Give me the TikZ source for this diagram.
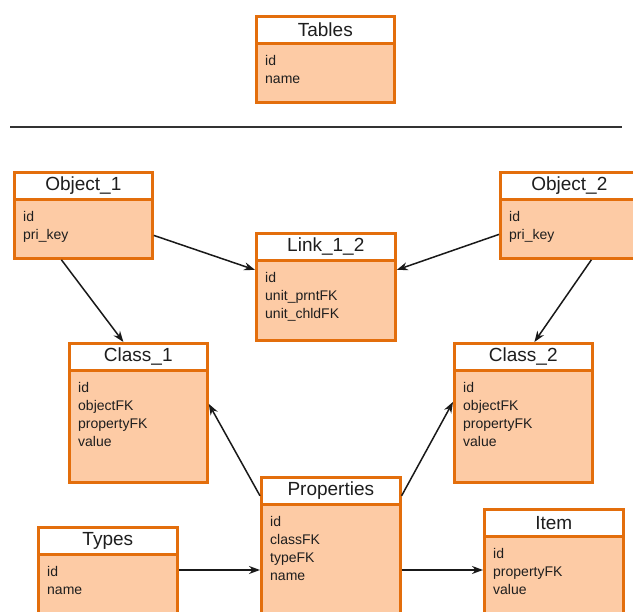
\documentclass[tikz,border=0pt]{standalone}
\usepackage{fontspec}
\setmainfont{Liberation Sans}
\usetikzlibrary{arrows.meta,calc}
\definecolor{tborder}{RGB}{227,110,12}
\definecolor{tfill}{RGB}{253,203,165}
\definecolor{ink}{RGB}{30,30,30}
\tikzset{
  tbody/.style={draw=tborder, fill=tfill, line width=2.8pt, rectangle, inner sep=0pt},
  ttitle/.style={draw=tborder, fill=white, line width=2.6pt, rectangle, inner sep=0pt,
    minimum height=27pt, text=ink, font=\fontsize{19}{22}\selectfont},
  field/.style={inner sep=0pt, text=ink, font=\fontsize{14}{17}\selectfont},
  arr/.style={draw=black!90, line width=1.5pt, -{Stealth[length=11pt,width=8pt]}},
}
\newcommand\dbtab[7]{%
  \node[tbody, minimum width=#4pt, minimum height=#5pt, anchor=north west] (#1) at (#2,#3) {};
  \node[ttitle, minimum width=#4pt, anchor=north west] (#1-t) at (#2,#3) {#6};
  \foreach \f [count=\i] in {#7}
    \node[field, anchor=base west] (#1-f\i) at ({#2+10},{#3+51+18*(\i-1)}) {\f};
}
\begin{document}
\begin{tikzpicture}[x=1pt,y=-1pt]
\clip (0,0) rectangle (633,612);
\fill[white] (0,0) rectangle (633,612);

\dbtab{tables}{255}{15}{138}{86}{Tables}{id,name}
\draw[line width=2pt, black!80] (10,127) -- (622,127);

\dbtab{obj1}{13}{171}{138}{86}{Object\_1}{id,pri\_key}
\dbtab{obj2}{499}{171}{138}{86}{Object\_2}{id,pri\_key}
\dbtab{link}{255}{232}{139}{107}{Link\_1\_2}{id,unit\_prntFK,unit\_chldFK}
\dbtab{class1}{68}{342}{138}{139}{Class\_1}{id,objectFK,propertyFK,value}
\dbtab{class2}{453}{342}{138}{139}{Class\_2}{id,objectFK,propertyFK,value}
\dbtab{prop}{260}{476}{139}{170}{Properties}{id,classFK,typeFK,name}
\dbtab{types}{37}{526}{139}{120}{Types}{id,name}
\dbtab{item}{483}{508}{139}{140}{Item}{id,propertyFK,value}

\coordinate (row) at (0,570);

\draw[arr] ([yshift=-20pt]obj1.east) -- ([yshift=17pt]link.west);
\draw[arr] ([yshift=-19pt]obj2.west) -- ([yshift=17pt]link.east);
\draw[arr] ([xshift=-22pt]obj1.south) -- ([xshift=-15pt]class1.north);
\draw[arr] ([xshift=22pt]obj2.south) -- ([xshift=11pt]class2.north);
\draw[arr] ([yshift=-5pt]prop-t.west) -- ([yshift=9pt]class1.east);
\draw[arr] ([yshift=-5pt]prop-t.east) -- ([yshift=11pt]class2.west);
\draw[arr] (types.east |- row) -- (prop.west |- row);
\draw[arr] (prop.east |- row) -- (item.west |- row);
\end{tikzpicture}
\end{document}
